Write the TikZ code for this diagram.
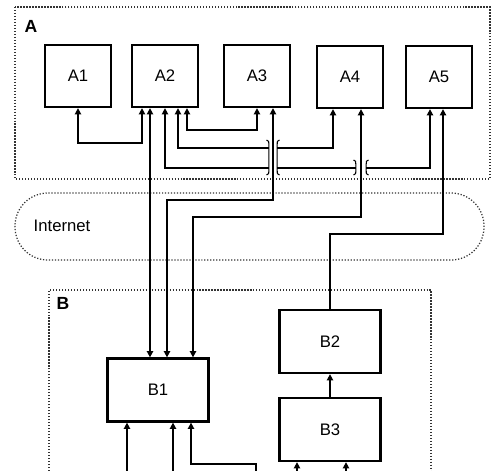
\documentclass[tikz,border=0pt]{standalone}
\usepackage{fontspec}
\setmainfont{Liberation Sans}
\usetikzlibrary{arrows.meta,calc}

\begin{document}
\begin{tikzpicture}[x=0.02cm,y=-0.02cm,
      font=\fontsize{9.5}{11}\selectfont,
      >={Triangle[length=3.6pt,width=3.6pt]},
      box/.style={draw,line width=1.3pt,minimum width=1.31cm,minimum height=1.24cm,inner sep=0pt},
      wide/.style={box,minimum width=2.02cm,minimum height=1.26cm},
      zone/.style={draw=black!80,line width=0.7pt,densely dotted},
      link/.style={line width=1pt},
      hop/.style={line width=0.6pt}]
      \clip (0,0) rectangle (500,470);
      % regions
      \draw[zone] (15,7) rectangle (490,179);
      \draw[zone,rounded corners=0.66cm] (15,193) rectangle (484,260);
      \draw[zone] (49,480) |- (431,290) -- (431,480);
      \node[font=\bfseries] (labA) at (31,26) {A};
      \node[font=\bfseries] (labB) at (63,303) {B};
      \node (inet) at (62,226) {Internet};
      % units of A
      \node[box] (A1) at (78,76) {A1};
      \node[box] (A2) at (165,76) {A2};
      \node[box] (A3) at (257,76) {A3};
      \node[box] (A4) at (350,77) {A4};
      \node[box] (A5) at (439,77) {A5};
      % units of B
      \node[wide] (B1) at (158,390) {B1};
      \node[wide] (B2) at (330,341.5) {B2};
      \node[wide] (B3) at (330,429.5) {B3};
      % links inside A
      \draw[link,<->] (A1.south) -- ++(0,35) -| ($(A2.south)+(-23,0)$);
      \draw[link,<->] ($(A2.south)+(22,0)$) -- ++(0,22) -| (A3.south);
      \draw[link,<->] ($(A2.south)+(13,0)$) -- ++(0,40) -| ($(A4.south)+(-17,0)$);
      \draw[link,<->] (A2.south) -- ++(0,60) -| ($(A5.south)+(-9,0)$);
      % gaps where lines hop over
      \fill[white] (268.6,141) rectangle (277.4,174);
      \fill[white] (355.6,161) rectangle (366.4,174);
      \draw[hop] (266.5,140) .. controls (268.8,141) .. (268.8,145) -- (268.8,170) .. controls (268.8,174) .. (266.5,175);
      \draw[hop] (279.5,140) .. controls (277.2,141) .. (277.2,145) -- (277.2,170) .. controls (277.2,174) .. (279.5,175);
      \draw[hop] (353.5,160) .. controls (355.8,161) .. (355.8,164) -- (355.8,170) .. controls (355.8,174) .. (353.5,175);
      \draw[hop] (368.5,160) .. controls (366.2,161) .. (366.2,164) -- (366.2,170) .. controls (366.2,174) .. (368.5,175);
      % links from A to B across the internet
      \draw[link,<->] ($(A2.south)+(-15,0)$) -- ($(B1.north)+(-8,0)$);
      \draw[link,<->] ($(A3.south)+(16,0)$) -- ++(0,92) -| ($(B1.north)+(9,0)$);
      \draw[link,<->] ($(A4.south)+(11,0)$) -- ++(0,108) -| ($(B1.north)+(35,0)$);
      \draw[link,<-] ($(A5.south)+(4,0)$) -- ++(0,125) -| (B2.north);
      % links inside B
      \draw[link,->] (B3) -- (B2);
      \draw[link,<-] ($(B1.south)+(-31,0)$) -- ++(0,50);
      \draw[link,<-] ($(B1.south)+(15,0)$) -- ++(0,50);
      \draw[link,<-] ($(B1.south)+(33,0)$) -- ++(0,41) -| ++(65,9);
      \draw[link,<-] ($(B3.south)+(-33,0)$) -- ++(0,12);
      \draw[link,<-] ($(B3.south)+(16,0)$) -- ++(0,12);
    \end{tikzpicture}
\end{document}
